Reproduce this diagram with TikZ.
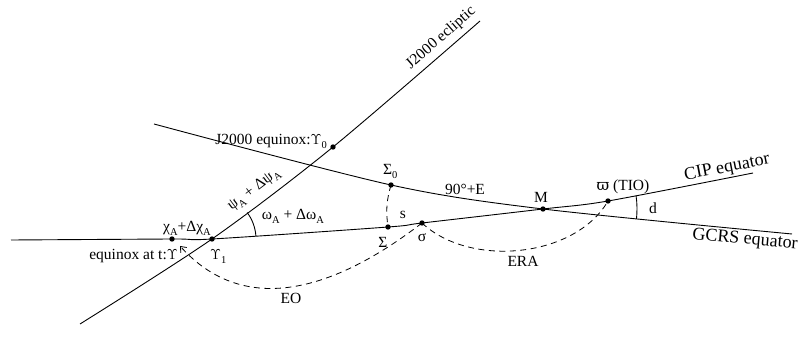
\documentclass[tikz,border=0pt]{standalone}
\usepackage{fontspec}
\setmainfont{Liberation Serif}
\newfontfamily\dvserif{DejaVu Serif}
\usetikzlibrary{arrows.meta}
\newcommand{\lowidx}[1]{\raisebox{-0.55ex}{\fontsize{10.5}{11}\selectfont #1}}
\newcommand{\eqx}{\ensuremath{\Upsilon}}
\tikzset{
  >={Straight Barb[length=5pt,width=8pt]},
  every node/.style={font=\fontsize{15.5}{18}\selectfont,inner sep=0pt},
  circ/.style={line width=0.9pt},
  arcdash/.style={line width=0.8pt,dash pattern=on 6pt off 4.5pt},
  eqlabel/.style={font=\fontsize{18}{20}\selectfont},
}

\begin{document}
\begin{tikzpicture}[x=1pt,y=1pt]
  \useasboundingbox (0,0) rectangle (798,351);
  % ecliptic
  \coordinate (eclA) at (80,27);
  \coordinate (g1) at (212,112);
  \coordinate (g0) at (333,204);
  \coordinate (eclB) at (480,330);
  % GCRS equator
  \coordinate (gcA) at (154,227);
  \coordinate (S0) at (391,166);
  \coordinate (M) at (543,142);
  \coordinate (gcB) at (792,117);
  % CIP equator
  \coordinate (cpA) at (11,111);
  \coordinate (chi) at (172,112);
  \coordinate (S) at (388,124);
  \coordinate (sg) at (422,128);
  \coordinate (vp) at (608,150);
  \coordinate (cpB) at (753,178);
  \coordinate (eoTip) at (180,105);

  \draw[circ] plot[smooth] coordinates {(eclA) (g1) (g0) (eclB)};
  \draw[circ] plot[smooth] coordinates {(gcA) (S0) (M) (gcB)};
  \draw[circ] plot[smooth] coordinates {(cpA) (chi) (g1) (S) (sg) (M) (vp) (cpB)};

  \draw[arcdash] (S0) to[bend right=12] (S);
  \draw[arcdash,->] (sg) .. controls (335,61) and (245,33) .. (eoTip);
  \draw[arcdash] (sg) .. controls (470,83) and (575,93) .. (vp);

  \draw[circ] (g1) ++(4:44) arc[start angle=4,end angle=37,radius=44];
  \draw[circ] (M) ++(-6:94) arc[start angle=-6,end angle=8,radius=94];

  \foreach \p in {chi,g1,g0,S0,S,sg,M,vp}
    \fill (\p) circle (2.7);

  \node[rotate=41] (tecl) at (441,313) {J2000 ecliptic};
  \node[anchor=base east] (tg0) at (327,206) {J2000 equinox:\eqx\lowidx{0}};
  \node[rotate=37] (tpsi) at (254,161) {ψ\lowidx{A} + Δψ\lowidx{A}};
  \node (tom) at (293,135) {ω\lowidx{A} + Δω\lowidx{A}};
  \node (tchi) at (187,123) {χ\lowidx{A}+Δχ\lowidx{A}};
  \node[anchor=base east] (tgt) at (178,92) {equinox at t:\eqx};
  \node[anchor=base west] (tg1) at (210,91) {\eqx\lowidx{1}};
  \node[anchor=base west] (tS0) at (383,176) {Σ\lowidx{0}};
  \node (tS) at (383,109) {Σ};
  \node (tsg) at (422,113) {σ};
  \node (ts) at (403,136) {s};
  \node (tE) at (465,162) {90°+E};
  \node (tM) at (541,154) {M};
  \node (tvp) at (623,164) {{\dvserif ϖ} (TIO)};
  \node[eqlabel,rotate=11] (tcip) at (727,183) {CIP equator};
  \node[eqlabel,rotate=-5] (tgcrs) at (745,111) {GCRS equator};
  \node (td) at (653,143) {d};
  \node (tera) at (523,90) {ERA};
  \node (teo) at (291,53) {EO};
\end{tikzpicture}
\end{document}
